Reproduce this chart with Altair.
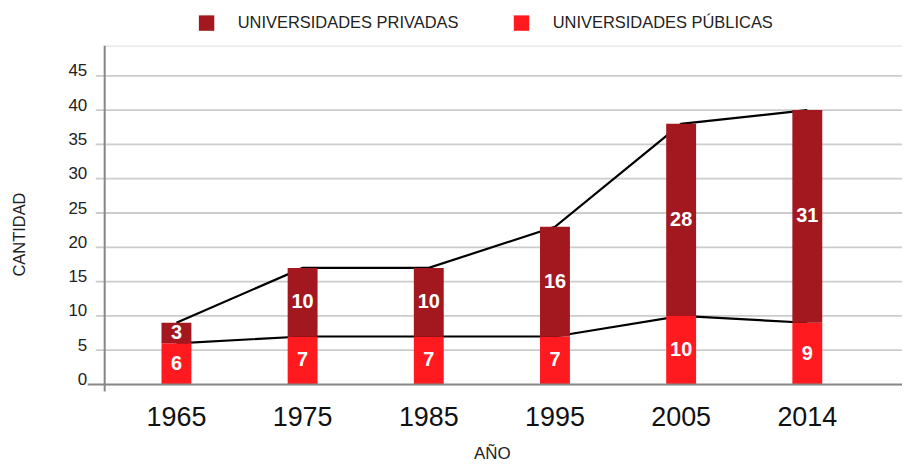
import altair as alt
import pandas as pd

years = ["1965", "1975", "1985", "1995", "2005", "2014"]
publicas = [6, 7, 7, 7, 10, 9]
privadas = [3, 10, 10, 16, 28, 31]
y_ticks = [0, 5, 10, 15, 20, 25, 30, 35, 40, 45]

PRIV = "UNIVERSIDADES PRIVADAS"
PUB = "UNIVERSIDADES PÚBLICAS"

rows = []
for y, pu, pr in zip(years, publicas, privadas):
    rows.append({"year": y, "tipo": PUB, "value": pu, "ord": 0})
    rows.append({"year": y, "tipo": PRIV, "value": pr, "ord": 1})
df = pd.DataFrame(rows)

lines_df = pd.DataFrame({
    "year": years * 2,
    "serie": ["pub"] * len(years) + ["tot"] * len(years),
    "v": publicas + [a + b for a, b in zip(publicas, privadas)],
})

FONT = "Liberation Sans"

x_axis = alt.Axis(title="AÑO", labelFontSize=27, labelPadding=20, ticks=False,
                  domain=False, labelAngle=0, titleFontSize=17, titleFontWeight="normal",
                  titlePadding=15, labelColor="#111", titleColor="#222", labelFont=FONT,
                  titleFont=FONT)
x_scale = alt.Scale(range=[8.7, 768.3], paddingInner=0.763, paddingOuter=0.3815)
y_scale = alt.Scale(domain=[0, 49.4], nice=False, zero=True)
y_axis = alt.Axis(title="CANTIDAD", values=y_ticks,
                  grid=False, labelOverlap=False, ticks=False,
                  labelPadding=18, labelFontSize=17, labelOffset=-5,
                  domain=False, titleFontSize=16.5, titleFontWeight="normal",
                  titleX=-85, titleY=189, titleAngle=270, titleAlign="center",
                  titleBaseline="middle", labelColor="#222", titleColor="#222",
                  labelFont=FONT, titleFont=FONT)

def X():
    return alt.X("year:N", scale=x_scale, axis=x_axis)

def Y(field, **kw):
    return alt.Y(field, scale=y_scale, axis=y_axis, **kw)

grid_df = pd.DataFrame({"v": y_ticks[1:]})
grid = alt.Chart(grid_df).mark_rule(color="#cccccc", strokeWidth=1.8).encode(
    y=Y("v:Q"), x=alt.value(-9), x2=alt.value(805)
)

lines = alt.Chart(lines_df).mark_line(color="black", strokeWidth=2.2).encode(
    x=X(),
    y=Y("v:Q"),
    detail="serie:N",
)

bars = alt.Chart(df).mark_bar().encode(
    x=X(),
    y=Y("value:Q", stack="zero"),
    color=alt.Color(
        "tipo:N",
        scale=alt.Scale(domain=[PRIV, PUB], range=["#A3171E", "#FF1A20"]),
        legend=alt.Legend(title=None, orient="none", direction="horizontal",
                          legendX=94, legendY=-31, symbolType="square", symbolSize=240,
                          symbolStrokeWidth=0, labelFontSize=16.5, labelOffset=23,
                          labelLimit=0, columnPadding=54, padding=0,
                          labelColor="#222", labelFont=FONT),
    ),
    order=alt.Order("ord:Q"),
)

texts = alt.Chart(df).transform_stack(
    stack="value", groupby=["year"], as_=["y0", "y1"], sort=[alt.SortField("ord")]
).transform_calculate(mid="(datum.y0 + datum.y1) / 2").mark_text(
    color="white", fontWeight="bold", fontSize=20, baseline="middle", font=FONT
).encode(
    x=X(),
    y=Y("mid:Q"),
    text=alt.Text("value:Q"),
)

base_df = pd.DataFrame({"v": [0]})
zero_rule = alt.Chart(base_df).mark_rule(color="#888888", strokeWidth=2.2).encode(
    y=Y("v:Q"), x=alt.value(-17), x2=alt.value(805)
)
vaxis = alt.Chart(base_df).mark_rule(color="#888888", strokeWidth=2).encode(
    x=alt.value(0), y=alt.value(0), y2=alt.value(347)
)

chart = alt.layer(grid, lines, bars, texts, zero_rule, vaxis).properties(
    width=800, height=340,
    autosize=alt.AutoSizeParams(type="none"),
    padding={"left": 97, "top": 37, "right": 0, "bottom": 80},
).configure_view(stroke=None).configure(font=FONT)

chart.save("out.html", embed_options={"renderer": "svg", "actions": False})
